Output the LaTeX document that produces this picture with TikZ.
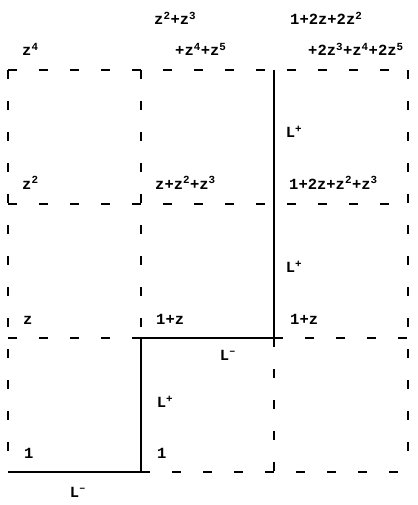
\documentclass[tikz,border=0pt]{standalone}
\usepackage{fontspec}
\setmonofont{Liberation Mono}
\newcommand{\up}[1]{\textsuperscript{#1}}
\begin{document}
\begin{tikzpicture}[x=1pt,y=-1pt,
  gridline/.style={line width=1.6pt,dash pattern=on 9pt off 22pt},
  pathline/.style={line width=1.8pt},
  lbl/.style={anchor=base west,inner sep=0pt,font=\fontsize{15.5}{18}\selectfont\ttfamily\bfseries},
  plbl/.style={inner sep=0pt,font=\fontsize{15.5}{18}\selectfont\ttfamily\bfseries}]
\useasboundingbox (0,0) rectangle (417,505);
% grid points
\foreach \i/\x in {0/8,1/141,2/274,3/408}{
  \foreach \j/\y in {0/472,1/338,2/204,3/70}{
    \coordinate (g\i\j) at (\x,\y);
  }
}
% dashed grid
\draw[gridline] (g03) -- (g33);
\draw[gridline] (g02) -- (g32);
\draw[gridline] (g01) -- (g11);
\draw[gridline] (g21) -- (g31);
\draw[gridline] (g10) -- (g30);
\draw[gridline] (g03) -- (g00);
\draw[gridline] (g13) -- (g11);
\draw[gridline] (g21) -- (g20);
\draw[gridline] (g33) -- (g30);
% solid lattice path
\draw[pathline] (g00) -- (g10) -- (g11) -- (g21) -- (g23);
% path labels
\node[plbl] (lm1) at (78,492) {L\up{\textendash}};
\node[plbl] (lp1) at (165,402) {L\up{+}};
\node[plbl] (lm2) at (228,355) {L\up{\textendash}};
\node[plbl] (lp2) at (294,267) {L\up{+}};
\node[plbl] (lp3) at (294,132) {L\up{+}};
% cell labels
\node[lbl] (a00) at (24,458) {1};
\node[lbl] (a10) at (157,458) {1};
\node[lbl] (a01) at (23,324) {z};
\node[lbl] (a11) at (156,324) {1+z};
\node[lbl] (a21) at (290,324) {1+z};
\node[lbl] (a02) at (22,189) {z\up{2}};
\node[lbl] (a12) at (155,189) {z+z\up{2}+z\up{3}};
\node[lbl] (a22) at (289,189) {1+2z+z\up{2}+z\up{3}};
\node[lbl] (a03) at (22,56) {z\up{4}};
\node[lbl] (a13) at (154,25) {z\up{2}+z\up{3}};
\node[lbl] (b13) at (175,56) {+z\up{4}+z\up{5}};
\node[lbl] (a23) at (290,25) {1+2z+2z\up{2}};
\node[lbl] (b23) at (308,56) {+2z\up{3}+z\up{4}+2z\up{5}};
\end{tikzpicture}
\end{document}
